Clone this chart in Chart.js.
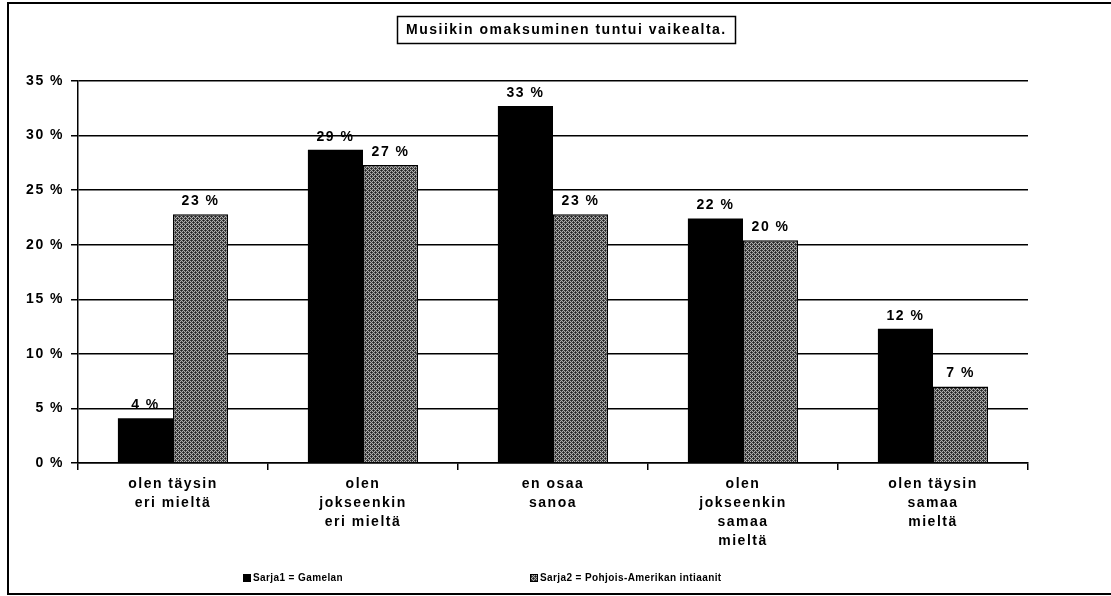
<!DOCTYPE html>
<html lang="fi">
<head>
<meta charset="utf-8">
<title>Musiikin omaksuminen tuntui vaikealta.</title>
<script src="https://cdn.jsdelivr.net/npm/chart.js@4.4.1/dist/chart.umd.min.js"></script>
<style>
  html, body { margin: 0; padding: 0; background: #fff; }
  #wrap { width: 1111px; height: 596px; position: relative; }
</style>
</head>
<body>
<div id="wrap"><canvas id="chart" width="1111" height="596"></canvas></div>
<script>
const chartTitle = 'Musiikin omaksuminen tuntui vaikealta.';
const categories = [
    ['olen täysin', 'eri mieltä'],
    ['olen', 'jokseenkin', 'eri mieltä'],
    ['en osaa', 'sanoa'],
    ['olen', 'jokseenkin', 'samaa', 'mieltä'],
    ['olen täysin', 'samaa', 'mieltä']
];
const seriesNames = ['Sarja1 = Gamelan', 'Sarja2 = Pohjois-Amerikan intiaanit'];
const gamelan = [4.1, 28.7, 32.7, 22.4, 12.3];
const intiaanit = [22.8, 27.3, 22.8, 20.4, 7.0];
const yTicks = [0, 5, 10, 15, 20, 25, 30, 35];

const FONT = '"Liberation Sans", Arial, sans-serif';
const SPACING = '1.5px';

// dithered grey fill for the second series
function makePattern() {
    const c = document.createElement('canvas');
    c.width = 4; c.height = 4;
    const g = c.getContext('2d');
    g.fillStyle = '#b0b0b0';
    g.fillRect(0, 0, 4, 4);
    g.fillStyle = '#444';
    for (let y = 0; y < 4; y++) {
        for (let x = 0; x < 4; x++) {
            if ((x + y) % 2 === 0) g.fillRect(x, y, 1, 1);
        }
    }
    g.fillStyle = '#222';
    g.fillRect(1, 2, 1, 1);
    g.fillRect(3, 0, 1, 1);
    return g.createPattern(c, 'repeat');
}
const grey = makePattern();

// the old spreadsheet font is set wide, so space the letters out a bit
const wideText = {
    id: 'wideText',
    beforeUpdate(chart) { chart.ctx.letterSpacing = SPACING; },
    beforeDraw(chart) { chart.ctx.letterSpacing = SPACING; }
};

// frame, title box, value labels and legend
const decorations = {
    id: 'decorations',
    afterDatasetsDraw(chart) {
        const ctx = chart.ctx;
        ctx.save();
        ctx.font = 'bold 14px ' + FONT;
        ctx.letterSpacing = SPACING;
        ctx.fillStyle = '#000';
        ctx.textAlign = 'center';
        ctx.textBaseline = 'bottom';
        chart.data.datasets.forEach((ds, di) => {
            chart.getDatasetMeta(di).data.forEach((bar, i) => {
                ctx.fillText(Math.round(ds.data[i]) + ' %', bar.x, bar.y - 6);
            });
        });
        ctx.restore();
    },
    afterDraw(chart) {
        const ctx = chart.ctx;
        ctx.save();
        ctx.strokeStyle = '#000';
        // outer frame
        ctx.lineWidth = 2;
        ctx.beginPath();
        ctx.moveTo(1111, 3);
        ctx.lineTo(8, 3);
        ctx.lineTo(8, 594);
        ctx.lineTo(1111, 594);
        ctx.stroke();

        // title in a box
        ctx.font = 'bold 14px ' + FONT;
        ctx.letterSpacing = SPACING;
        ctx.fillStyle = '#000';
        ctx.textAlign = 'left';
        ctx.textBaseline = 'middle';
        const tw = ctx.measureText(chartTitle).width;
        const x0 = 406;
        ctx.fillText(chartTitle, x0, 30);
        ctx.lineWidth = 1.5;
        ctx.strokeRect(397.5, 16.5, Math.round(tw + 17), 27);

        // legend
        ctx.font = 'bold 10px ' + FONT;
        ctx.letterSpacing = '0.4px';
        ctx.fillStyle = '#000';
        ctx.fillRect(243, 574, 8, 8);
        ctx.fillText(seriesNames[0], 253, 578);
        ctx.fillStyle = grey;
        ctx.fillRect(530, 574, 8, 8);
        ctx.lineWidth = 1;
        ctx.strokeRect(530.5, 574.5, 7, 7);
        ctx.fillStyle = '#000';
        ctx.fillText(seriesNames[1], 540, 578);
        ctx.restore();
    }
};

new Chart(document.getElementById('chart'), {
    type: 'bar',
    data: {
        labels: categories,
        datasets: [{
            label: seriesNames[0],
            data: gamelan,
            backgroundColor: '#000',
            borderWidth: 0
        }, {
            label: seriesNames[1],
            data: intiaanit,
            backgroundColor: grey,
            borderColor: '#000',
            borderWidth: 1.5
        }]
    },
    options: {
        responsive: false,
        animation: false,
        events: [],
        layout: {
            padding: { left: 10, right: 83, top: 81, bottom: 0 }
        },
        datasets: {
            bar: { categoryPercentage: 0.58, barPercentage: 1 }
        },
        scales: {
            x: {
                grid: {
                    display: true,
                    offset: true,
                    drawOnChartArea: false,
                    drawTicks: true,
                    tickLength: 7,
                    color: '#000',
                    lineWidth: 1.5
                },
                border: { display: true, color: '#000', width: 1.5 },
                ticks: {
                    color: '#000',
                    font: { family: FONT, size: 14, weight: 'bold', lineHeight: 1.35 },
                    padding: 5,
                    maxRotation: 0,
                    autoSkip: false
                },
                afterFit(scale) { scale.height = 133; }
            },
            y: {
                min: 0,
                max: 35,
                afterBuildTicks(scale) {
                    scale.ticks = yTicks.map(v => ({ value: v }));
                },
                grid: {
                    color: '#000',
                    lineWidth: 1.5,
                    tickLength: 7
                },
                border: { display: true, color: '#000', width: 1.5 },
                ticks: {
                    color: '#000',
                    font: { family: FONT, size: 14, weight: 'bold' },
                    padding: 7,
                    callback: v => v + ' %'
                },
                afterFit(scale) { scale.width = 68; }
            }
        },
        plugins: {
            legend: { display: false },
            title: { display: false },
            tooltip: { enabled: false }
        }
    },
    plugins: [wideText, decorations]
});
</script>
</body>
</html>
